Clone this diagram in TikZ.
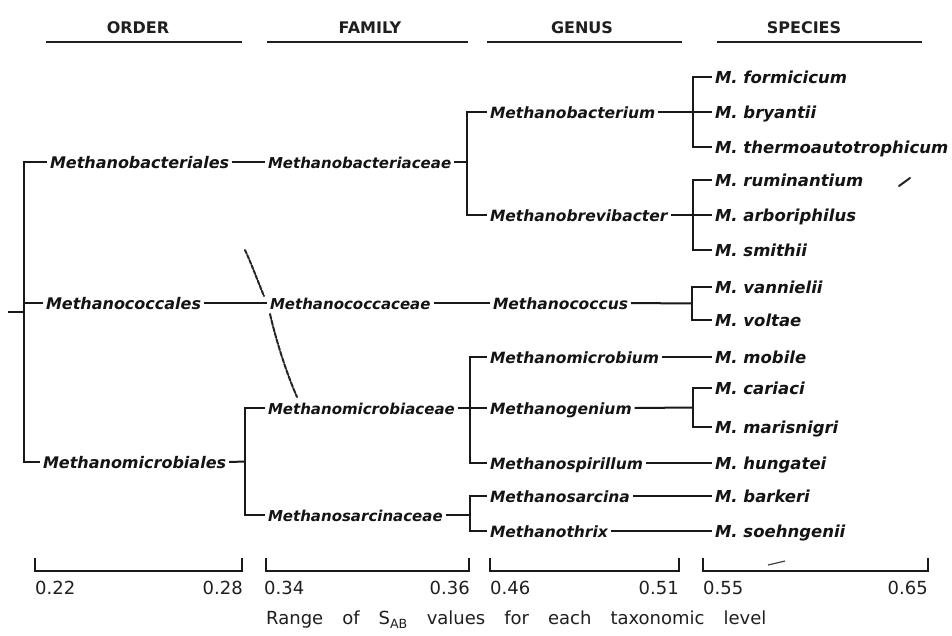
\documentclass[tikz,border=0pt]{standalone}
\usepackage{fontspec}
\setmainfont{DejaVu Sans}
\newcommand{\widewords}{\spaceskip=19pt plus 0pt minus 0pt\relax}
\begin{document}
\begin{tikzpicture}[x=1pt,y=-1pt,
  taxon/.style={anchor=west, inner sep=0pt, outer sep=3pt, text height=12pt, text depth=0pt,
    font=\fontsize{#1}{18}\selectfont\bfseries\itshape, text=black!92},
  ordlab/.style={taxon=16},
  famlab/.style={taxon=15},
  genlab/.style={taxon=15.5},
  spclab/.style={taxon=16.5},
  head/.style={inner sep=0pt, text height=11pt, text depth=0pt,
    font=\fontsize{16}{18}\selectfont\bfseries, text=black!88},
  num/.style={inner sep=0pt, text height=12pt, text depth=0pt,
    font=\fontsize{18}{20}\selectfont, text=black!88},
  link/.style={line width=2pt, draw=black!90},
  rule/.style={line width=2.2pt, draw=black!88},
  scan/.style={line width=2pt, draw=black!85, line cap=round}]

% page
\fill[white] (0,0) rectangle (952,635);
\useasboundingbox (0,0) rectangle (952,635);

% column headings with their rules
\node[head] (hO) at (138,28) {ORDER};
\node[head] (hF) at (370,28) {FAMILY};
\node[head] (hG) at (582,28) {GENUS};
\node[head] (hS) at (804,28) {SPECIES};
\draw[rule] (46,42) -- (242,42);
\draw[rule] (267,42) -- (468,42);
\draw[rule] (487,42) -- (682,42);
\draw[rule] (717,42) -- (922,42);

% orders
\node[ordlab] (O1) at (47,162) {Methanobacteriales};
\node[ordlab] (O2) at (43,303) {Methanococcales};
\node[ordlab] (O3) at (40,462) {Methanomicrobiales};

% families
\node[famlab] (F1) at (265,162) {Methanobacteriaceae};
\node[famlab] (F2) at (267,303) {Methanococcaceae};
\node[famlab] (F3) at (265,408) {Methanomicrobiaceae};
\node[famlab] (F4) at (265,515) {Methanosarcinaceae};

% genera
\node[genlab] (G1) at (487,112) {Methanobacterium};
\node[genlab] (G2) at (487,215) {Methanobrevibacter};
\node[genlab] (G3) at (490,303) {Methanococcus};
\node[genlab] (G4) at (487,357) {Methanomicrobium};
\node[genlab] (G5) at (487,408) {Methanogenium};
\node[genlab] (G6) at (487,463) {Methanospirillum};
\node[genlab] (G7) at (487,496) {Methanosarcina};
\node[genlab] (G8) at (487,531) {Methanothrix};

% species
\node[spclab] (S1)  at (712,77)  {M. formicicum};
\node[spclab] (S2)  at (712,112) {M. bryantii};
\node[spclab] (S3)  at (712,147) {M. thermoautotrophicum};
\node[spclab] (S4)  at (712,180) {M. ruminantium};
\node[spclab] (S5)  at (712,215) {M. arboriphilus};
\node[spclab] (S6)  at (712,250) {M. smithii};
\node[spclab] (S7)  at (712,287) {M. vannielii};
\node[spclab] (S8)  at (712,320) {M. voltae};
\node[spclab] (S9)  at (712,357) {M. mobile};
\node[spclab] (S10) at (712,388) {M. cariaci};
\node[spclab] (S11) at (712,427) {M. marisnigri};
\node[spclab] (S12) at (712,463) {M. hungatei};
\node[spclab] (S13) at (712,496) {M. barkeri};
\node[spclab] (S14) at (712,531) {M. soehngenii};

% bracket spines
\coordinate (root) at (8,312);
\coordinate (bO)  at (24,312);
\coordinate (bF)  at (245,461.5);
\coordinate (bG1) at (467,163.5);
\coordinate (bG3) at (470,408);
\coordinate (bG4) at (470,513.5);
\coordinate (bS1) at (693,112);
\coordinate (bS2) at (693,215);
\coordinate (bS3) at (692,303.5);
\coordinate (bS5) at (693,407.5);

% root and orders
\draw[link] (root) -- (bO);
\draw[link] (O1.west) -| (bO) |- (O3.west);
\draw[link] (O2.west) -- (O2.west -| bO);

% orders to families
\draw[link] (O1.east) -- (F1.west);
\draw[link] (O2.east) -- (F2.west);
\draw[link] (O3.east) -- (bF);
\draw[link] (F3.west) -| (bF) |- (F4.west);

% families to genera
\draw[link] (F1.east) -- (F1.east -| bG1);
\draw[link] (G1.west) -| (bG1) |- (G2.west);
\draw[link] (F2.east) -- (G3.west);
\draw[link] (F3.east) -- (bG3);
\draw[link] (G4.west) -| (bG3) |- (G6.west);
\draw[link] (G5.west) -- (G5.west -| bG3);
\draw[link] (F4.east) -- (F4.east -| bG4);
\draw[link] (G7.west) -| (bG4) |- (G8.west);

% genera to species
\draw[link] (G1.east) -- (S2.west);
\draw[link] (S1.west) -| (bS1) |- (S3.west);
\draw[link] (G2.east) -- (S5.west);
\draw[link] (S4.west) -| (bS2) |- (S6.west);
\draw[link] (G3.east) -- (bS3);
\draw[link] (S7.west) -| (bS3) |- (S8.west);
\draw[link] (G4.east) -- (S9.west);
\draw[link] (G5.east) -- (bS5);
\draw[link] (S10.west) -| (bS5) |- (S11.west);
\draw[link] (G6.east) -- (S12.west);
\draw[link] (G7.east) -- (S13.west);
\draw[link] (G8.east) -- (S14.west);

% ranges of S_AB for each level
\foreach \a/\b in {35/242, 266/469, 490/679, 703/928}
  \draw[link] (\a,558) -- (\a,571) -- (\b,571) -- (\b,558);
\node[num, anchor=west] (n1) at (35,588)  {0.22};
\node[num, anchor=east] (n2) at (243,588) {0.28};
\node[num, anchor=west] (n3) at (264,588) {0.34};
\node[num, anchor=east] (n4) at (470,588) {0.36};
\node[num, anchor=west] (n5) at (490,588) {0.46};
\node[num, anchor=east] (n6) at (679,588) {0.51};
\node[num, anchor=west] (n7) at (703,588) {0.55};
\node[num, anchor=east] (n8) at (928,588) {0.65};

\node[inner sep=0pt, anchor=west, text=black!88,
  font=\fontsize{18}{20}\selectfont] (cap) at (266,620)
  {\widewords Range of S\textsubscript{AB} values for each taxonomic level};

% pen marks on the sheet
\draw[scan, dash pattern=on 4pt off 1.5pt] (245,250) .. controls (252,265) and (258,282) .. (264,296);
\draw[scan, dash pattern=on 5pt off 1.5pt] (270,314) .. controls (276,340) and (286,372) .. (297,397);
\draw[scan] (899,186) -- (910,178);
\draw[line width=1.2pt, draw=black!75] (768,565) -- (785,561);
\end{tikzpicture}
\end{document}
